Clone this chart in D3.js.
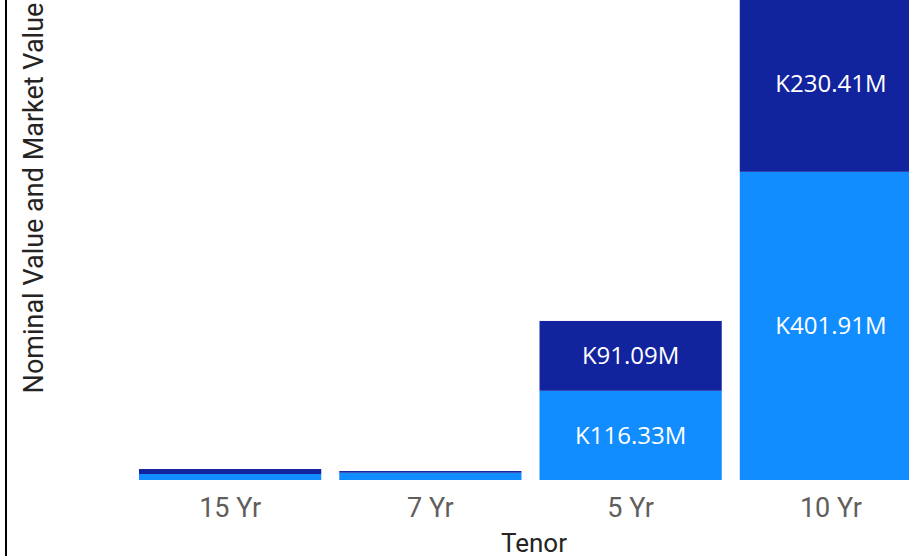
<!DOCTYPE html>
<html>
<head>
<meta charset="utf-8">
<script src="https://cdn.jsdelivr.net/npm/d3@7"></script>
<style>
  html, body { margin: 0; padding: 0; background: #fff; overflow: hidden; }
  svg { display: block; }
</style>
</head>
<body>
<div id="chart"></div>
<script>
// ---- Data ----
var tenors = ['15 Yr', '7 Yr', '5 Yr', '10 Yr'];
var seriesKeys = ['nominal', 'market'];
var nominalValues = [7.8, 9.5, 116.33, 401.91];   // light blue, bottom (K millions)
var marketValues = [6.5, 2.2, 91.09, 230.41];     // dark blue, top (K millions)
var yMax = 626;

var COLORS = { nominal: '#118DFF', market: '#12239E' };

var W = 909, H = 556;
var plot = { left: 130, right: 931, top: 0, bottom: 480 };

var rows = tenors.map(function (t, i) {
  return { tenor: t, nominal: nominalValues[i], market: marketValues[i] };
});

var svg = d3.select('#chart').append('svg')
  .attr('width', W)
  .attr('height', H);

var x = d3.scaleBand()
  .domain(tenors)
  .range([plot.left, plot.right])
  .paddingInner(0.09)
  .paddingOuter(0.045);

var y = d3.scaleLinear()
  .domain([0, yMax])
  .range([plot.bottom, plot.top]);

var stacked = d3.stack().keys(seriesKeys)(rows);

// Bars
var layers = svg.append('g').selectAll('g')
  .data(stacked)
  .enter().append('g')
  .attr('fill', function (d) { return COLORS[d.key]; });

layers.selectAll('rect')
  .data(function (d) { return d; })
  .enter().append('rect')
  .attr('x', function (d) { return x(d.data.tenor); })
  .attr('width', x.bandwidth())
  .attr('y', function (d) { return y(d[1]); })
  .attr('height', function (d) { return y(d[0]) - y(d[1]); });

// Data labels (only where the segment is tall enough)
layers.selectAll('text')
  .data(function (d) { return d; })
  .enter()
  .filter(function (d) { return y(d[0]) - y(d[1]) > 30; })
  .append('text')
  .attr('x', function (d) { return x(d.data.tenor) + x.bandwidth() / 2; })
  .attr('y', function (d) { return (y(d[0]) + y(d[1])) / 2; })
  .attr('dy', '0.35em')
  .attr('text-anchor', 'middle')
  .attr('fill', '#fff')
  .style('font-family', '"Open Sans", sans-serif')
  .style('font-size', '24px')
  .text(function (d) { return 'K' + (d[1] - d[0]).toFixed(2) + 'M'; });

// X axis (labels only)
var xAxis = svg.append('g')
  .attr('transform', 'translate(0,' + plot.bottom + ')')
  .call(d3.axisBottom(x).tickSize(0).tickPadding(18));
xAxis.select('.domain').remove();
xAxis.selectAll('text')
  .attr('fill', '#605E5C')
  .style('font-family', 'Roboto, sans-serif')
  .style('font-size', '27px');

// Axis titles
svg.append('text')
  .attr('x', 534)
  .attr('y', 552)
  .attr('text-anchor', 'middle')
  .attr('fill', '#252423')
  .style('font-family', 'Roboto, sans-serif')
  .style('font-size', '26px')
  .text('Tenor');

svg.append('text')
  .attr('transform', 'translate(43,198) rotate(-90)')
  .attr('text-anchor', 'middle')
  .attr('fill', '#252423')
  .style('font-family', 'Roboto, sans-serif')
  .style('font-size', '27px')
  .text('Nominal Value and Market Value');

// Left frame line
svg.append('line')
  .attr('x1', 6).attr('x2', 6)
  .attr('y1', 0).attr('y2', H)
  .attr('stroke', '#000')
  .attr('stroke-width', 2);
</script>
</body>
</html>
